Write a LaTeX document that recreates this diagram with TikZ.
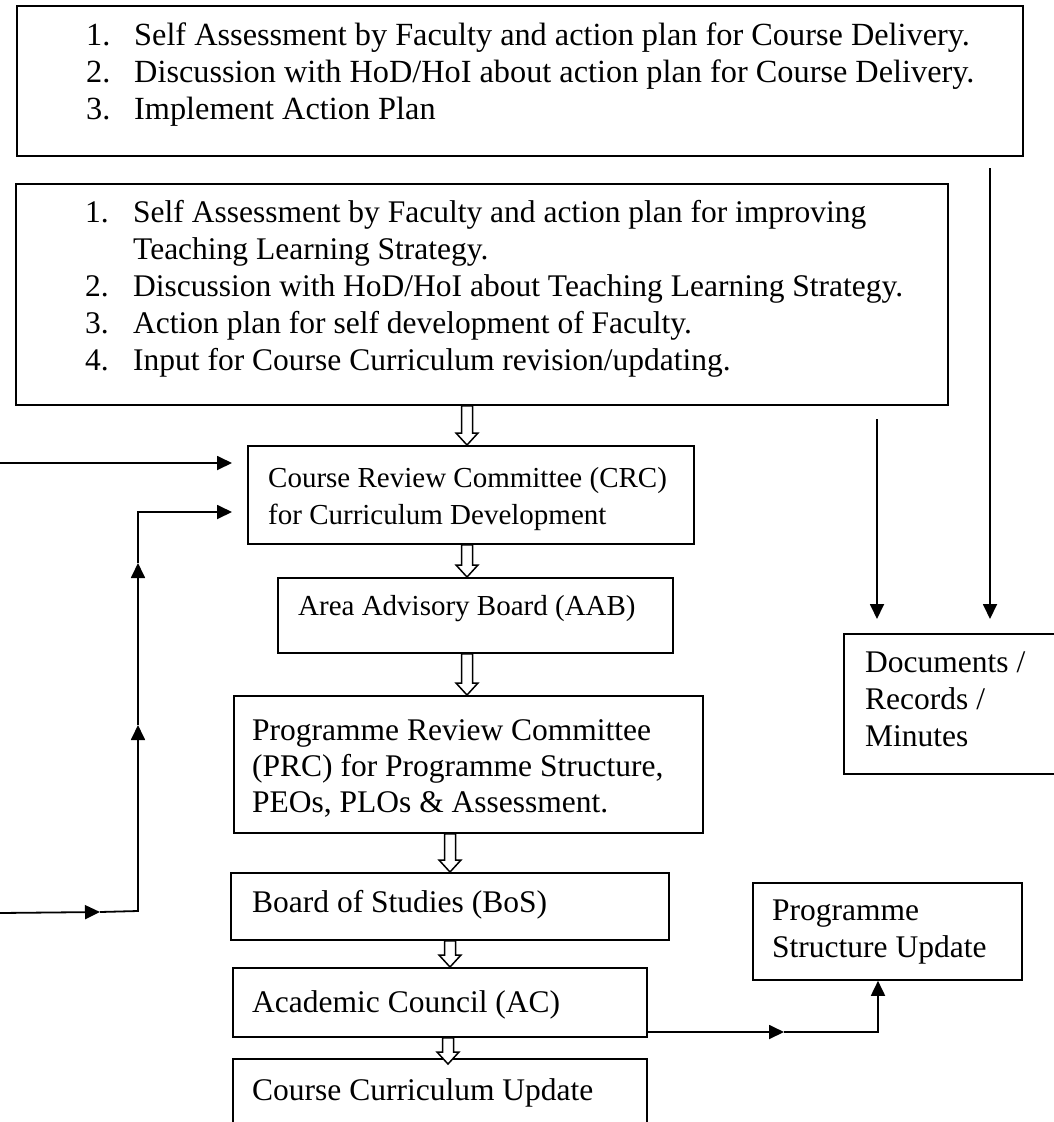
\documentclass[tikz,border=0pt]{standalone}
\usepackage{fontspec}
\setmainfont{Liberation Serif}
\usetikzlibrary{arrows.meta,calc}
\newcommand\hollowarr[4]{%
  \draw[hollowarrow] let \p1=(#2.south), \p2=(#3.north) in
   (#1pt-5.5pt,\y1) -- (#1pt+5.5pt,\y1) -- (#1pt+5.5pt,\y2+12pt-#4pt) -- (#1pt+11pt,\y2+12pt-#4pt)
   -- (#1pt,\y2-#4pt) -- (#1pt-11pt,\y2+12pt-#4pt) -- (#1pt-5.5pt,\y2+12pt-#4pt) -- cycle;}
\begin{document}
\begin{tikzpicture}[x=1pt,y=-1pt,
  box/.style={draw, line width=1.8pt, inner sep=0pt, anchor=north west},
  txt/.style={anchor=base west, inner sep=0pt, font=\fontsize{31.5}{37}\selectfont},
  bigtxt/.style={anchor=base west, inner sep=0pt, font=\fontsize{32.3}{37}\selectfont},
  smalltxt/.style={anchor=base west, inner sep=0pt, font=\fontsize{29}{35}\selectfont},
  arr/.style={line width=1.8pt, -{Triangle[length=15pt,width=14pt]}},
  ln/.style={line width=1.8pt},
  hollowarrow/.style={draw, fill=white, line width=1.5pt, line join=miter}]
\useasboundingbox (0,0) rectangle (1054,1122);
\fill[white] (0,0) rectangle (1054,1122);

% boxes
\node[box, minimum width=1006pt, minimum height=150pt] (b1) at (16,5) {};
\node[box, minimum width=932pt, minimum height=221pt] (b2) at (15,183) {};
\node[box, minimum width=446pt, minimum height=98pt] (crc) at (247,445) {};
\node[box, minimum width=395pt, minimum height=75pt] (aab) at (277,577) {};
\node[box, minimum width=469pt, minimum height=137pt] (prc) at (233,695) {};
\node[box, minimum width=438pt, minimum height=67pt] (bos) at (230,872) {};
\node[box, minimum width=414pt, minimum height=69pt] (ac) at (232,967) {};
\node[box, minimum width=414pt, minimum height=100pt] (ccu) at (232,1058) {};
\node[box, minimum width=269pt, minimum height=97pt] (psu) at (752,882) {};
\node[box, minimum width=230pt, minimum height=140pt] (docs) at (843,633) {};

% box 1 text
\node[bigtxt] (b1n1) at (86,45) {1.};
\node[bigtxt] (b1t1) at (134,45) {Self Assessment by Faculty and action plan for Course Delivery.};
\node[bigtxt] (b1n2) at (86,82) {2.};
\node[bigtxt] (b1t2) at (134,82) {Discussion with HoD/HoI about action plan for Course Delivery.};
\node[bigtxt] (b1n3) at (86,119) {3.};
\node[bigtxt] (b1t3) at (134,119) {Implement Action Plan};

% box 2 text
\node[txt] (b2n1) at (85,222) {1.};
\node[txt] (b2t1) at (133,222) {Self Assessment by Faculty and action plan for improving};
\node[txt] (b2t1b) at (133,259) {Teaching Learning Strategy.};
\node[txt] (b2n2) at (85,296) {2.};
\node[txt] (b2t2) at (133,296) {Discussion with HoD/HoI about Teaching Learning Strategy.};
\node[txt] (b2n3) at (85,333) {3.};
\node[txt] (b2t3) at (133,333) {Action plan for self development of Faculty.};
\node[txt] (b2n4) at (85,370) {4.};
\node[txt] (b2t4) at (133,370) {Input for Course Curriculum revision/updating.};

% other texts
\node[smalltxt] (crct1) at (268,487) {Course Review Committee (CRC)};
\node[smalltxt] (crct2) at (268,524) {for Curriculum Development};
\node[smalltxt] (aabt) at (298,615) {Area Advisory Board (AAB)};
\node[txt] (prct1) at (252,740) {Programme Review Committee};
\node[txt] (prct2) at (252,776) {(PRC) for Programme Structure,};
\node[txt] (prct3) at (252,812) {PEOs, PLOs \& Assessment.};
\node[txt] (bost) at (252,912) {Board of Studies (BoS)};
\node[txt] (act) at (252,1012) {Academic Council (AC)};
\node[txt] (ccut) at (252,1100) {Course Curriculum Update};
\node[txt] (psut1) at (772,920) {Programme};
\node[txt] (psut2) at (772,957) {Structure Update};
\node[txt] (docst1) at (865,672) {Documents /};
\node[txt] (docst2) at (865,709) {Records /};
\node[txt] (docst3) at (865,746) {Minutes};

% hollow arrows
\hollowarr{467}{b2}{crc}{0}
\hollowarr{467}{crc}{aab}{0}
\hollowarr{467}{aab}{prc}{0}
\hollowarr{450}{prc}{bos}{0}
\hollowarr{450}{bos}{ac}{0}
\hollowarr{448}{ac}{ccu}{6}

% left inputs
\coordinate (lin1) at (0,463);
\draw[arr, shorten >=15pt] (lin1) -- (lin1 -| crc.west);
\coordinate (lin2) at (0,913);
\coordinate (lmid) at (100,912);
\coordinate (lcorner) at (138,911);
\coordinate (lup1) at (138,725);
\coordinate (lup2) at (138,563);
\coordinate (ltop) at (138,512);
\draw[arr] (lin2) -- (lmid);
\draw[arr] (lmid) -- (lcorner) -- (lup1);
\draw[arr] (lup1) -- (lup2);
\draw[arr, shorten >=15pt] (lup2) -- (ltop) -- (ltop -| crc.west);

% to documents
\coordinate (d1s) at (990,168);
\coordinate (d2s) at (877,419);
\draw[arr, shorten >=14pt] (d1s) -- (d1s |- docs.north);
\draw[arr, shorten >=14pt] (d2s) -- (d2s |- docs.north);

% AC to programme structure update
\coordinate (acmid) at (784,1032);
\coordinate (acturn) at (878,1032);
\draw[arr] (ac.east |- acmid) -- (acmid);
\draw[arr] (acmid) -- (acturn) -- (acturn |- psu.south);
\end{tikzpicture}
\end{document}
